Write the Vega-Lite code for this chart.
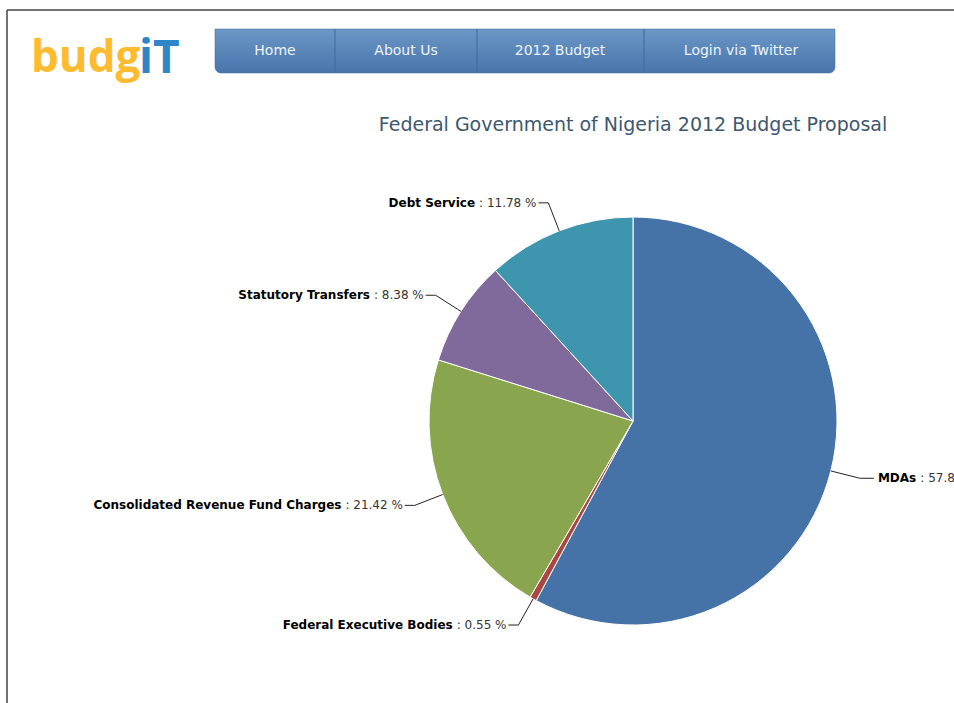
{
  "$schema": "https://vega.github.io/schema/vega-lite/v6.json",
  "width": 954,
  "height": 703,
  "autosize": {"type": "none"},
  "padding": 0,
  "background": "white",
  "config": {"view": {"stroke": null}},
  "data": {
    "values": [
      {"name": "MDAs", "pct": 57.87, "order": 1},
      {"name": "Federal Executive Bodies", "pct": 0.55, "order": 2},
      {"name": "Consolidated Revenue Fund Charges", "pct": 21.42, "order": 3},
      {"name": "Statutory Transfers", "pct": 8.38, "order": 4},
      {"name": "Debt Service", "pct": 11.78, "order": 5}
    ]
  },
  "layer": [
    {
      "data": {"values": [{}]},
      "layer": [
        {
          "mark": {"type": "rule", "color": "#444444", "strokeWidth": 1.5},
          "encoding": {
            "x": {"datum": 7, "type": "quantitative", "scale": {"domain": [0, 954], "range": [0, 954], "nice": false, "zero": false}, "axis": null},
            "x2": {"datum": 954},
            "y": {"datum": 10, "type": "quantitative", "scale": {"domain": [0, 703], "range": [0, 703], "nice": false, "zero": false}, "axis": null}
          }
        },
        {
          "mark": {"type": "rule", "color": "#444444", "strokeWidth": 1.5},
          "encoding": {
            "x": {"datum": 7, "type": "quantitative", "scale": {"domain": [0, 954], "range": [0, 954], "nice": false, "zero": false}, "axis": null},
            "y": {"datum": 10, "type": "quantitative", "scale": {"domain": [0, 703], "range": [0, 703], "nice": false, "zero": false}, "axis": null},
            "y2": {"datum": 703}
          }
        },
        {
          "mark": {"type": "text", "text": "budg", "font": "Open Sans", "fontSize": 44, "fontWeight": "bold", "color": "#FDBB30", "align": "left", "baseline": "alphabetic", "letterSpacing": -2},
          "encoding": {
            "x": {"datum": 31, "type": "quantitative", "scale": {"domain": [0, 954], "range": [0, 954], "nice": false, "zero": false}, "axis": null},
            "y": {"datum": 72, "type": "quantitative", "scale": {"domain": [0, 703], "range": [0, 703], "nice": false, "zero": false}, "axis": null}
          }
        },
        {
          "mark": {"type": "text", "text": "iT", "font": "Open Sans", "fontSize": 46, "fontWeight": "bold", "color": "#2E86C8", "align": "left", "baseline": "alphabetic", "letterSpacing": -1},
          "encoding": {
            "x": {"datum": 139, "type": "quantitative", "scale": {"domain": [0, 954], "range": [0, 954], "nice": false, "zero": false}, "axis": null},
            "y": {"datum": 73, "type": "quantitative", "scale": {"domain": [0, 703], "range": [0, 703], "nice": false, "zero": false}, "axis": null}
          }
        },
        {
          "mark": {
            "type": "rect",
            "cornerRadiusBottomLeft": 6,
            "cornerRadiusBottomRight": 6,
            "stroke": "#3F6B9C",
            "strokeWidth": 0.5,
            "color": {"gradient": "linear", "x1": 0, "y1": 0, "x2": 0, "y2": 1, "stops": [{"offset": 0, "color": "#6B98C6"}, {"offset": 1, "color": "#4874AB"}]}
          },
          "encoding": {
            "x": {"datum": 215, "type": "quantitative", "scale": {"domain": [0, 954], "range": [0, 954], "nice": false, "zero": false}, "axis": null},
            "x2": {"datum": 835},
            "y": {"datum": 29, "type": "quantitative", "scale": {"domain": [0, 703], "range": [0, 703], "nice": false, "zero": false}, "axis": null},
            "y2": {"datum": 73}
          }
        },
        {
          "mark": {"type": "rule", "color": "#3E6A9C", "strokeWidth": 1},
          "encoding": {
            "x": {"datum": 335, "type": "quantitative", "scale": {"domain": [0, 954], "range": [0, 954], "nice": false, "zero": false}, "axis": null},
            "y": {"datum": 29, "type": "quantitative", "scale": {"domain": [0, 703], "range": [0, 703], "nice": false, "zero": false}, "axis": null},
            "y2": {"datum": 73}
          }
        },
        {
          "mark": {"type": "rule", "color": "#3E6A9C", "strokeWidth": 1},
          "encoding": {
            "x": {"datum": 477, "type": "quantitative", "scale": {"domain": [0, 954], "range": [0, 954], "nice": false, "zero": false}, "axis": null},
            "y": {"datum": 29, "type": "quantitative", "scale": {"domain": [0, 703], "range": [0, 703], "nice": false, "zero": false}, "axis": null},
            "y2": {"datum": 73}
          }
        },
        {
          "mark": {"type": "rule", "color": "#3E6A9C", "strokeWidth": 1},
          "encoding": {
            "x": {"datum": 644, "type": "quantitative", "scale": {"domain": [0, 954], "range": [0, 954], "nice": false, "zero": false}, "axis": null},
            "y": {"datum": 29, "type": "quantitative", "scale": {"domain": [0, 703], "range": [0, 703], "nice": false, "zero": false}, "axis": null},
            "y2": {"datum": 73}
          }
        },
        {
          "mark": {"type": "text", "text": "Home", "font": "DejaVu Sans", "fontSize": 14, "color": "#EEF3F9", "align": "center", "baseline": "middle"},
          "encoding": {
            "x": {"datum": 275, "type": "quantitative", "scale": {"domain": [0, 954], "range": [0, 954], "nice": false, "zero": false}, "axis": null},
            "y": {"datum": 51, "type": "quantitative", "scale": {"domain": [0, 703], "range": [0, 703], "nice": false, "zero": false}, "axis": null}
          }
        },
        {
          "mark": {"type": "text", "text": "About Us", "font": "DejaVu Sans", "fontSize": 14, "color": "#EEF3F9", "align": "center", "baseline": "middle"},
          "encoding": {
            "x": {"datum": 406, "type": "quantitative", "scale": {"domain": [0, 954], "range": [0, 954], "nice": false, "zero": false}, "axis": null},
            "y": {"datum": 51, "type": "quantitative", "scale": {"domain": [0, 703], "range": [0, 703], "nice": false, "zero": false}, "axis": null}
          }
        },
        {
          "mark": {"type": "text", "text": "2012 Budget", "font": "DejaVu Sans", "fontSize": 14, "color": "#EEF3F9", "align": "center", "baseline": "middle"},
          "encoding": {
            "x": {"datum": 560, "type": "quantitative", "scale": {"domain": [0, 954], "range": [0, 954], "nice": false, "zero": false}, "axis": null},
            "y": {"datum": 51, "type": "quantitative", "scale": {"domain": [0, 703], "range": [0, 703], "nice": false, "zero": false}, "axis": null}
          }
        },
        {
          "mark": {"type": "text", "text": "Login via Twitter", "font": "DejaVu Sans", "fontSize": 14, "color": "#EEF3F9", "align": "center", "baseline": "middle"},
          "encoding": {
            "x": {"datum": 741, "type": "quantitative", "scale": {"domain": [0, 954], "range": [0, 954], "nice": false, "zero": false}, "axis": null},
            "y": {"datum": 51, "type": "quantitative", "scale": {"domain": [0, 703], "range": [0, 703], "nice": false, "zero": false}, "axis": null}
          }
        },
        {
          "mark": {"type": "text", "text": "Federal Government of Nigeria 2012 Budget Proposal", "font": "DejaVu Sans", "fontSize": 19, "color": "#3E576F", "align": "center", "baseline": "middle"},
          "encoding": {
            "x": {"datum": 633, "type": "quantitative", "scale": {"domain": [0, 954], "range": [0, 954], "nice": false, "zero": false}, "axis": null},
            "y": {"datum": 125, "type": "quantitative", "scale": {"domain": [0, 703], "range": [0, 703], "nice": false, "zero": false}, "axis": null}
          }
        }
      ]
    },
    {
      "mark": {"type": "arc", "outerRadius": 204, "stroke": "white", "strokeWidth": 1},
      "encoding": {
        "x": {"datum": 633, "type": "quantitative", "scale": {"domain": [0, 954], "range": [0, 954], "nice": false, "zero": false}, "axis": null},
        "y": {"datum": 421, "type": "quantitative", "scale": {"domain": [0, 703], "range": [0, 703], "nice": false, "zero": false}, "axis": null},
        "theta": {"field": "pct", "type": "quantitative", "stack": true},
        "order": {"field": "order", "type": "quantitative"},
        "color": {
          "field": "name",
          "type": "nominal",
          "legend": null,
          "scale": {
            "domain": ["MDAs", "Federal Executive Bodies", "Consolidated Revenue Fund Charges", "Statutory Transfers", "Debt Service"],
            "range": ["#4572A7", "#AA4643", "#89A54E", "#80699B", "#3D96AE"]
          }
        }
      }
    },
    {
      "transform": [
        {"window": [{"op": "sum", "field": "pct", "as": "cum"}], "sort": [{"field": "order"}], "frame": [null, 0]},
        {"calculate": "(datum.cum - datum.pct / 2) / 100 * 2 * PI", "as": "a"},
        {"calculate": "633 + 204 * sin(datum.a)", "as": "ex"},
        {"calculate": "421 - 204 * cos(datum.a)", "as": "ey"},
        {"calculate": "633 + 234 * sin(datum.a)", "as": "ax"},
        {"calculate": "421 - 234 * cos(datum.a)", "as": "ay"},
        {"calculate": "sin(datum.a) < 0 ? 'L' : 'R'", "as": "side"},
        {"calculate": "datum.ax + (datum.side == 'L' ? -10 : 14)", "as": "lx"},
        {"calculate": "datum.ax + (datum.side == 'L' ? -12 : 18)", "as": "tx"},
        {"calculate": "': ' + format(datum.pct, '.2f') + ' %'", "as": "rest"},
        {"calculate": "datum.side == 'L' ? datum.tx - (26.8 + 7.63 * (length(format(datum.pct, '.2f')) - 1)) : datum.tx + 9.6 * length(datum.name) + 4", "as": "cx"},
        {"calculate": "datum.cx - 4", "as": "nx"}
      ],
      "layer": [
        {
          "mark": {"type": "rule", "color": "#222222", "strokeWidth": 1},
          "encoding": {
            "x": {"field": "lx", "type": "quantitative", "scale": {"domain": [0, 954], "range": [0, 954], "nice": false, "zero": false}, "axis": null},
            "x2": {"field": "ax"},
            "y": {"field": "ay", "type": "quantitative", "scale": {"domain": [0, 703], "range": [0, 703], "nice": false, "zero": false}, "axis": null}
          }
        },
        {
          "mark": {"type": "rule", "color": "#222222", "strokeWidth": 1},
          "encoding": {
            "x": {"field": "ax", "type": "quantitative", "scale": {"domain": [0, 954], "range": [0, 954], "nice": false, "zero": false}, "axis": null},
            "x2": {"field": "ex"},
            "y": {"field": "ay", "type": "quantitative", "scale": {"domain": [0, 703], "range": [0, 703], "nice": false, "zero": false}, "axis": null},
            "y2": {"field": "ey"}
          }
        },
        {
          "transform": [{"filter": "datum.side == 'L'"}],
          "mark": {"type": "text", "font": "DejaVu Sans", "fontSize": 12, "fontWeight": "bold", "color": "#000000", "align": "right", "baseline": "middle"},
          "encoding": {
            "x": {"field": "nx", "type": "quantitative", "scale": {"domain": [0, 954], "range": [0, 954], "nice": false, "zero": false}, "axis": null},
            "y": {"field": "ay", "type": "quantitative", "scale": {"domain": [0, 703], "range": [0, 703], "nice": false, "zero": false}, "axis": null},
            "text": {"field": "name"}
          }
        },
        {
          "transform": [{"filter": "datum.side == 'R'"}],
          "mark": {"type": "text", "font": "DejaVu Sans", "fontSize": 12, "fontWeight": "bold", "color": "#000000", "align": "left", "baseline": "middle"},
          "encoding": {
            "x": {"field": "tx", "type": "quantitative", "scale": {"domain": [0, 954], "range": [0, 954], "nice": false, "zero": false}, "axis": null},
            "y": {"field": "ay", "type": "quantitative", "scale": {"domain": [0, 703], "range": [0, 703], "nice": false, "zero": false}, "axis": null},
            "text": {"field": "name"}
          }
        },
        {
          "mark": {"type": "text", "font": "DejaVu Sans", "fontSize": 12, "color": "#333333", "align": "left", "baseline": "middle"},
          "encoding": {
            "x": {"field": "cx", "type": "quantitative", "scale": {"domain": [0, 954], "range": [0, 954], "nice": false, "zero": false}, "axis": null},
            "y": {"field": "ay", "type": "quantitative", "scale": {"domain": [0, 703], "range": [0, 703], "nice": false, "zero": false}, "axis": null},
            "text": {"field": "rest"}
          }
        }
      ]
    }
  ]
}
